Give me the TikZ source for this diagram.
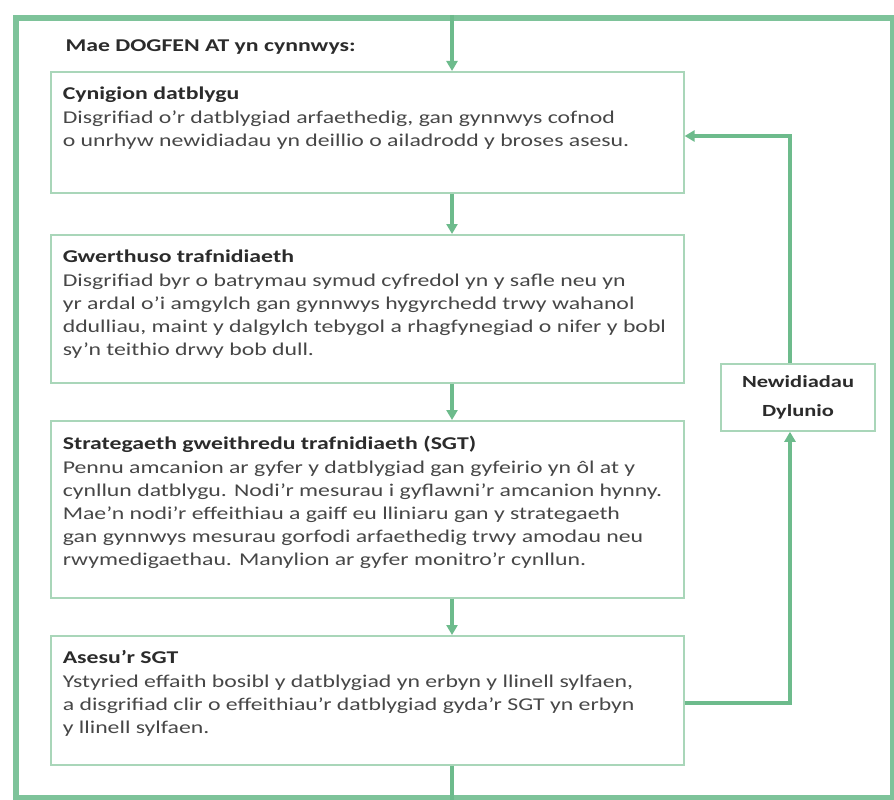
\documentclass[tikz,border=0pt]{standalone}
\usepackage{fontspec}
\setmainfont[FakeStretch=1.32]{Carlito}
\usetikzlibrary{arrows.meta}
\definecolor{frameg}{HTML}{7EC39A}
\definecolor{arrowg}{HTML}{6DBB8C}
\definecolor{boxg}{HTML}{A9D6B9}
\definecolor{txtc}{HTML}{474747}
\definecolor{ttlc}{HTML}{2B2B2B}
\newcommand{\boxtext}[3]{\parbox[c][#1][t]{609pt}{\raggedright\fontsize{18}{23}\selectfont
  \vspace*{3pt}{\color{ttlc}\bfseries #2\par}\vspace{1pt}\color{txtc}#3\par}}
\hbadness=10000
\hfuzz=20pt
\begin{document}
\begin{tikzpicture}[x=1pt,y=-1pt,
  stepbox/.style={draw=boxg, line width=1.6pt, fill=white, anchor=north west,
    inner xsep=12pt, inner ysep=12pt, minimum width=633pt},
  changebox/.style={draw=boxg, line width=1.6pt, fill=white, align=center,
    minimum width=154pt, minimum height=67pt, inner sep=0pt,
    font=\fontsize{17}{29}\selectfont\bfseries, text=ttlc},
  flow/.style={draw=arrowg, line width=3.5pt, -{Triangle[length=10pt,width=11pt]}},
  plain/.style={draw=arrowg, line width=3.5pt},
  framebox/.style={draw=frameg, line width=6pt, anchor=north west,
    minimum width=877pt, minimum height=780pt, inner sep=0pt}]
\useasboundingbox (0,0) rectangle (894,800);
\node[framebox] (frame) at (13,15) {};
\coordinate (ax) at (452,0);
\node[anchor=base west, font=\fontsize{18}{22}\selectfont\bfseries, text=ttlc] (title) at (62,52) {Mae DOGFEN AT yn cynnwys:};
\node[stepbox] (b1) at (50,71) {\boxtext{97pt}{Cynigion datblygu}{Disgrifiad o'r datblygiad arfaethedig, gan gynnwys cofnod\\ o unrhyw newidiadau yn deillio o ailadrodd y broses asesu.}};
\node[stepbox] (b2) at (50,234) {\boxtext{124pt}{Gwerthuso trafnidiaeth}{Disgrifiad byr o batrymau symud cyfredol yn y safle neu yn\\ yr ardal o'i amgylch gan gynnwys hygyrchedd trwy wahanol\\ ddulliau, maint y dalgylch tebygol a rhagfynegiad o nifer y bobl\\ sy'n teithio drwy bob dull.}};
\node[stepbox] (b3) at (50,420) {\boxtext{153pt}{Strategaeth gweithredu trafnidiaeth (SGT)}{Pennu amcanion ar gyfer y datblygiad gan gyfeirio yn ôl at y\\ cynllun datblygu. Nodi'r mesurau i gyflawni'r amcanion hynny.\\ Mae'n nodi'r effeithiau a gaiff eu lliniaru gan y strategaeth\\ gan gynnwys mesurau gorfodi arfaethedig trwy amodau neu\\ rwymedigaethau. Manylion ar gyfer monitro'r cynllun.}};
\node[stepbox] (b4) at (50,635) {\boxtext{105pt}{Asesu'r SGT}{Ystyried effaith bosibl y datblygiad yn erbyn y llinell sylfaen,\\ a disgrifiad clir o effeithiau'r datblygiad gyda'r SGT yn erbyn\\ y llinell sylfaen.}};
\node[changebox] (nd) at (798,397.5) {Newidiadau\\Dylunio};
\coordinate (fx) at (790,0);
\draw[flow] (frame.north -| ax) -- (b1.north -| ax);
\draw[flow] (b1.south -| ax) -- (b2.north -| ax);
\draw[flow] (b2.south -| ax) -- (b3.north -| ax);
\draw[flow] (b3.south -| ax) -- (b4.north -| ax);
\draw[plain] (b4.south -| ax) -- (frame.south -| ax);
\draw[flow] ([yshift=-68pt]b4.north east) -| (nd.south -| fx);
\draw[flow] (nd.north -| fx) |- ([yshift=-65pt]b1.north east);
\end{tikzpicture}
\end{document}
